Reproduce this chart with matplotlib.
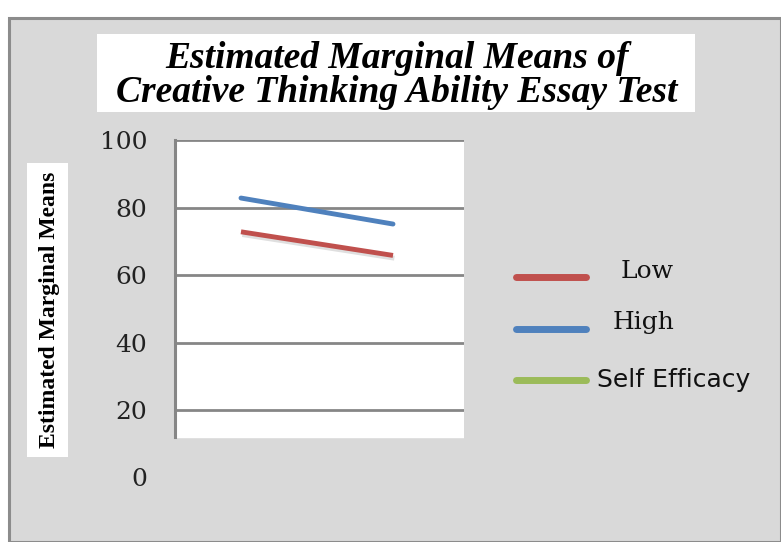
import numpy as np
import matplotlib.pyplot as plt
from matplotlib.patches import Rectangle
from matplotlib.lines import Line2D
import matplotlib.patheffects as pe

# data
groups = [1, 2]
low_means = [72.8, 65.8]
high_means = [82.8, 75.1]
series_names = ["Low", "High", "Self Efficacy"]
series_colors = ["#c0504d", "#4f81bd", "#9bbb59"]
y_ticks = [0, 20, 40, 60, 80, 100]
title_lines = ["Estimated Marginal Means of", "Creative Thinking Ability Essay Test"]

W, H = 781, 542
fig = plt.figure(figsize=(W / 100, H / 100), dpi=100, facecolor="white")


def fx(px):
    return px / W


def fy(py):
    return 1 - py / H


# gray chart panel with border
fig.add_artist(Rectangle((fx(9), 0), 1 - fx(9), fy(18), transform=fig.transFigure,
                         facecolor="#d9d9d9", edgecolor="#8c8c8c", linewidth=2.2, zorder=0))

# title box
fig.add_artist(Rectangle((fx(97), fy(112)), fx(695 - 97), (112 - 34) / H,
                         transform=fig.transFigure, facecolor="white", edgecolor="none", zorder=1))
for line, yy in zip(title_lines, [58, 92]):
    fig.text(fx(397), fy(yy), line, ha="center", va="center", fontsize=27,
             fontweight="bold", fontstyle="italic", family="Liberation Serif", zorder=2)

# y label box
fig.add_artist(Rectangle((fx(27), fy(457)), fx(68 - 27), (457 - 163) / H,
                         transform=fig.transFigure, facecolor="white", edgecolor="none", zorder=1))
fig.text(fx(50), fy(310), "Estimated Marginal Means", rotation=90, ha="center", va="center",
         fontsize=17, fontweight="bold", family="Liberation Serif", zorder=2)

# plot area
ax = fig.add_axes([fx(175), fy(477.5), fx(464 - 175), (477.5 - 140) / H])
ax.set_facecolor("none")
ax.set_ylim(0, 100)
ax.set_xlim(0.566, 2.467)
ax.axhspan(12, 100, color="white", zorder=0)
ax.set_yticks(y_ticks)
ax.set_yticklabels([str(t) for t in y_ticks], family="DejaVu Serif", fontsize=18, color="#222222")
ax.tick_params(axis="y", length=0, pad=20)
ax.set_xticks([])
ax.yaxis.grid(True, color="#868686", linewidth=2)
ax.get_ygridlines()[0].set_visible(False)
for s in ["top", "right", "bottom"]:
    ax.spines[s].set_visible(False)
ax.spines["left"].set_bounds(12, 100)
ax.spines["left"].set_color("#868686")
ax.spines["left"].set_linewidth(2.2)

shadow = [pe.SimpleLineShadow(offset=(1, -2), shadow_color="gray", alpha=0.25), pe.Normal()]
ax.plot(groups, low_means, color=series_colors[0], linewidth=3.5,
        solid_capstyle="butt", path_effects=shadow, zorder=3)
ax.plot(groups, high_means, color=series_colors[1], linewidth=3.5,
        solid_capstyle="round", zorder=3)

# legend drawn by hand
leg_y = [277, 329, 380]
text_x = [647, 644, 674]
text_fonts = ["DejaVu Serif", "DejaVu Serif", "DejaVu Sans"]
text_dy = [-6, -6, 0]
for name, c, yy, tx, fam, dy in zip(series_names, series_colors, leg_y, text_x, text_fonts, text_dy):
    fig.add_artist(Line2D([fx(516), fx(586)], [fy(yy), fy(yy)], transform=fig.transFigure,
                          color=c, linewidth=5, solid_capstyle="round"))
    fig.text(fx(tx), fy(yy + dy), name, ha="center", va="center", fontsize=18,
             family=fam, color="#111111")

fig.savefig("out.png", dpi=100, facecolor="white")
